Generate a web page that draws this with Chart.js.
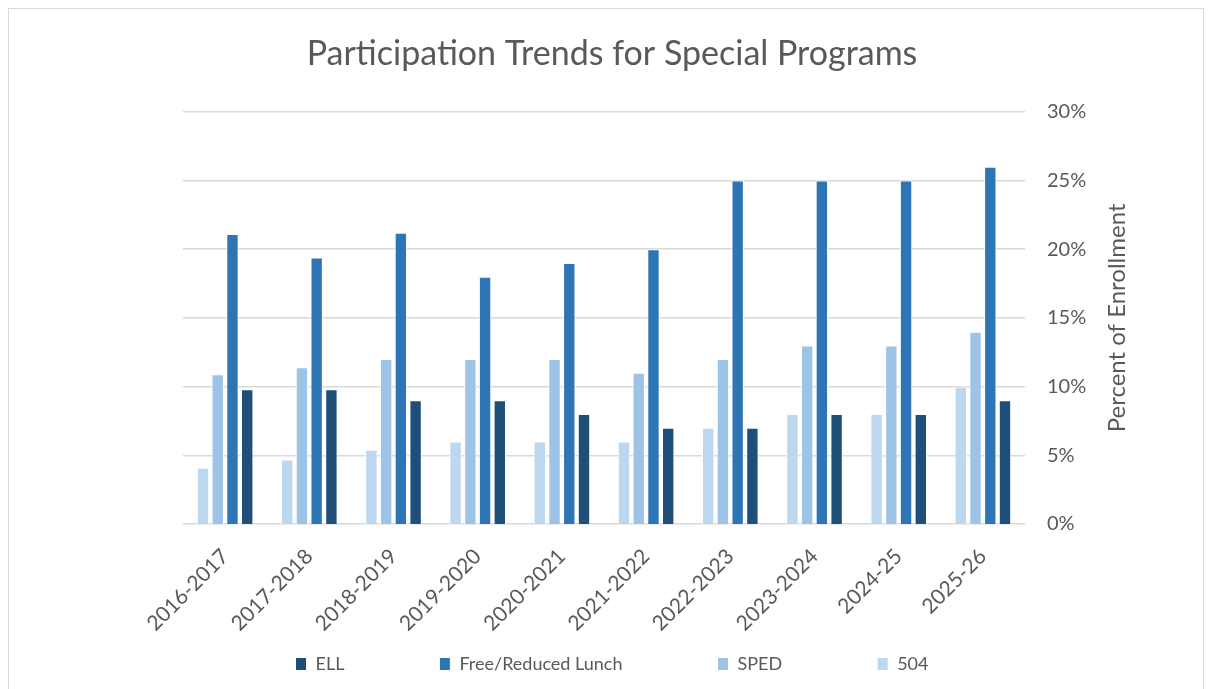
<!DOCTYPE html>
<html lang="en">
<head>
    <meta charset="utf-8">
    <title>Participation Trends for Special Programs</title>
    <style>
        body { margin: 0; background: #fff; }
        #frame { position: absolute; left: 8px; top: 8px; width: 1194px; height: 700px; border: 1px solid #d9d9d9; pointer-events: none; }
        #chartContainer { position: absolute; left: 0; top: 0; width: 1212px; height: 689px; }
    </style>
</head>
<body>
<div id="chartContainer">
    <canvas id="myChart"></canvas>
</div>
<div id="frame"></div>
<script src="https://cdn.jsdelivr.net/npm/chart.js@4.4.0/dist/chart.umd.min.js"></script>
<script>
    var years = ['2016-2017', '2017-2018', '2018-2019', '2019-2020', '2020-2021',
                 '2021-2022', '2022-2023', '2023-2024', '2024-25', '2025-26'];
    var ell  = [9.8, 9.8, 9.0, 9.0, 8.0, 7.0, 7.0, 8.0, 8.0, 9.0];
    var frl  = [21.1, 19.4, 21.2, 18.0, 19.0, 20.0, 25.0, 25.0, 25.0, 26.0];
    var sped = [10.9, 11.4, 12.0, 12.0, 12.0, 11.0, 12.0, 13.0, 13.0, 14.0];
    var s504 = [4.1, 4.7, 5.4, 6.0, 6.0, 6.0, 7.0, 8.0, 8.0, 10.0];
    var yTicks = [0, 5, 10, 15, 20, 25, 30];

    var FONT = 'Lato, "Open Sans", sans-serif';
    var GREY = '#595959';

    // right side axis title, read bottom to top
    var axisTitle = {
        id: 'axisTitle',
        afterDraw: function (chart) {
            var ctx = chart.ctx, area = chart.chartArea;
            ctx.save();
            ctx.translate(area.right + 92, (area.top + area.bottom) / 2);
            ctx.rotate(-Math.PI / 2);
            ctx.font = '24px ' + FONT;
            ctx.fillStyle = GREY;
            ctx.textAlign = 'center';
            ctx.textBaseline = 'middle';
            ctx.fillText('Percent of Enrollment', 0, 0);
            ctx.restore();
        }
    };

    function ds(label, data, color) {
        return {
            label: label,
            data: data,
            backgroundColor: color,
            borderColor: '#ffffff',
            borderWidth: 1,
            categoryPercentage: 0.7,
            barPercentage: 0.84
        };
    }

    var ctx = document.getElementById('myChart');
    new Chart(ctx, {
        type: 'bar',
        data: {
            labels: years,
            datasets: [
                ds('504', s504, '#bdd7ee'),
                ds('SPED', sped, '#9dc3e6'),
                ds('Free/Reduced Lunch', frl, '#2e75b6'),
                ds('ELL', ell, '#1f4e79')
            ]
        },
        options: {
            responsive: true,
            maintainAspectRatio: false,
            animation: false,
            layout: { padding: { left: 32, right: 20, top: 0, bottom: 6 } },
            plugins: {
                tooltip: { enabled: false },
                title: {
                    display: true,
                    text: 'Participation Trends for Special Programs',
                    color: GREY,
                    font: { family: FONT, size: 34, weight: 'normal' },
                    padding: { top: 34, bottom: 37 }
                },
                legend: {
                    position: 'bottom',
                    reverse: true,
                    labels: {
                        color: GREY,
                        font: { family: FONT, size: 18 },
                        boxWidth: 11,
                        boxHeight: 13,
                        padding: 95
                    }
                }
            },
            scales: {
                x: {
                    grid: { display: false },
                    border: { display: false },
                    // rotated labels hang down into the legend band, as in the original
                    afterFit: function (scale) {
                        scale.height = 36;
                        scale._computeLabelArea = function () { return undefined; };
                    },
                    ticks: {
                        color: GREY,
                        font: { family: FONT, size: 21 },
                        minRotation: 45,
                        maxRotation: 45,
                        padding: 12
                    }
                },
                // empty spacer so the plot starts where the original does
                spacer: {
                    position: 'left',
                    display: true,
                    grid: { display: false },
                    border: { display: false },
                    ticks: { display: false },
                    afterFit: function (scale) { scale.width = 151; }
                },
                y: {
                    position: 'right',
                    min: 0,
                    max: 30,
                    afterBuildTicks: function (axis) {
                        axis.ticks = yTicks.map(function (v) { return { value: v }; });
                    },
                    afterFit: function (scale) { scale.width = 167; },
                    grid: { color: '#d9d9d9', lineWidth: 1.5, drawTicks: false },
                    border: { display: false },
                    ticks: {
                        color: GREY,
                        font: { family: FONT, size: 20 },
                        padding: 22,
                        callback: function (v) { return v + '%'; }
                    }
                }
            }
        },
        plugins: [axisTitle]
    });
</script>
</body>
</html>
